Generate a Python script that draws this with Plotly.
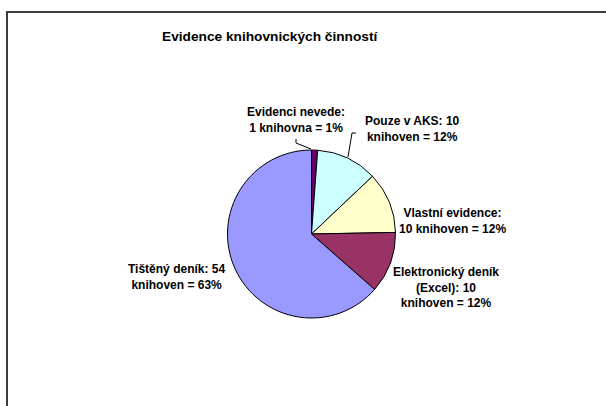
import plotly.graph_objects as go

W, H = 606, 406

categories = ["Evidenci nevede", "Pouze v AKS", "Vlastní evidence",
              "Elektronický deník (Excel)", "Tištěný deník"]
values = [1, 10, 10, 10, 54]
label_texts = [
    "Evidenci nevede:<br>1 knihovna = 1%",
    "Pouze v AKS: 10<br>knihoven = 12%",
    "Vlastní evidence:<br>10 knihoven = 12%",
    "Elektronický deník<br>(Excel): 10<br>knihoven = 12%",
    "Tištěný deník: 54<br>knihoven = 63%",
]
colors = ["#660066", "#CCFFFF", "#FFFFCC", "#993366", "#9999FF"]
title_text = "Evidence knihovnických činností"

# label block centres in page pixels
label_pos = [(296, 120), (412, 129), (452, 221), (446, 287), (176, 277)]


def px(x):
    return x / W


def py(y):
    return 1 - y / H


cx, cy, r = 311.5, 234, 84

fig = go.Figure(go.Pie(
    labels=categories,
    values=values,
    sort=False,
    direction="clockwise",
    rotation=0,
    marker=dict(colors=colors, line=dict(color="black", width=1)),
    textinfo="none",
    hoverinfo="label+value+percent",
    showlegend=False,
    domain=dict(x=[px(cx - r), px(cx + r)], y=[py(cy + r), py(cy - r)]),
))

font = dict(family="Liberation Sans, Arial, sans-serif", size=12, color="black")

annotations = [dict(
    text="<b>" + title_text + "</b>", x=px(270), y=py(37), xref="paper", yref="paper",
    showarrow=False, xanchor="center", yanchor="middle",
    font=dict(family="Liberation Sans, Arial, sans-serif", size=13.7, color="black"))]
for t, (lx, ly) in zip(label_texts, label_pos):
    annotations.append(dict(
        text="<b>" + t + "</b>", x=px(lx), y=py(ly), xref="paper", yref="paper",
        showarrow=False, xanchor="center", yanchor="middle", align="center",
        font=font))


def path(points):
    return "M " + " L ".join(f"{px(a)},{py(b)}" for a, b in points)


shapes = [
    # chart frame: only the left and top edges are visible in the window
    dict(type="path", xref="paper", yref="paper",
         path=path([(7, 406), (7, 12), (606, 12)]),
         line=dict(color="#3c3c3c", width=2)),
    dict(type="path", xref="paper", yref="paper",
         path=path([(296, 139), (296, 143), (311, 149)]), line=dict(color="black", width=1)),
    dict(type="path", xref="paper", yref="paper",
         path=path([(348, 157), (352, 133), (356, 133)]), line=dict(color="black", width=1)),
]

fig.update_layout(
    width=W, height=H,
    margin=dict(l=0, r=0, t=0, b=0),
    paper_bgcolor="white", plot_bgcolor="white",
    annotations=annotations,
    shapes=shapes,
)

fig.write_html(
    "out.html",
    config={"displayModeBar": False},
    post_script="document.documentElement.style.overflow='hidden';"
                "document.body.style.margin='0px';document.body.style.overflow='hidden';",
)
